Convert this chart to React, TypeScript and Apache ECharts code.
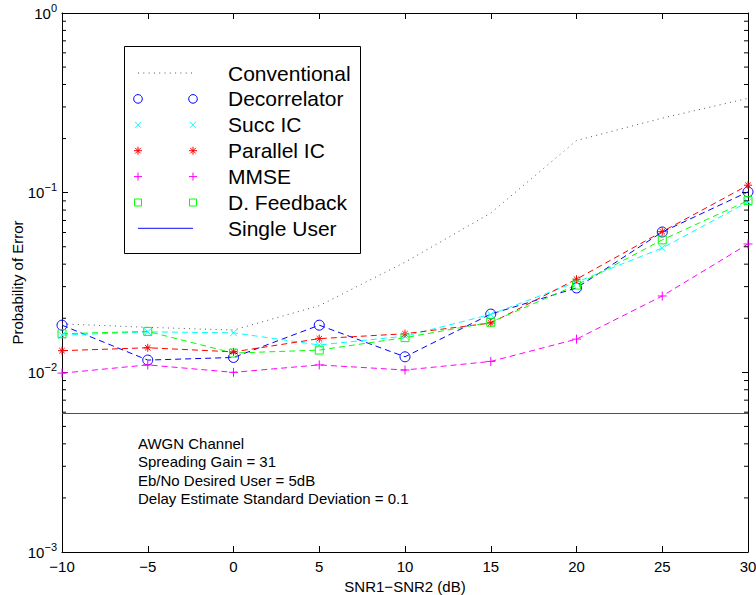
import React, { useEffect, useRef } from 'react';
import * as echarts from 'echarts';

// ---------- data ----------
const snrDiff = [-10, -5, 0, 5, 10, 15, 20, 25, 30];
const conventional = [0.0186, 0.0178, 0.0172, 0.0235, 0.041, 0.077, 0.195, 0.26, 0.335];
const decorrelator = [0.0183, 0.0117, 0.0121, 0.0183, 0.0122, 0.0211, 0.0295, 0.0604, 0.101];
const succIC = [0.0161, 0.0168, 0.0166, 0.0142, 0.0159, 0.021, 0.0318, 0.0492, 0.0888];
const parallelIC = [0.0132, 0.0137, 0.013, 0.0154, 0.0164, 0.0188, 0.033, 0.0607, 0.11];
const mmse = [0.0099, 0.011, 0.01, 0.011, 0.0103, 0.0115, 0.0153, 0.0266, 0.0518];
const dFeedback = [0.0164, 0.0169, 0.0128, 0.0133, 0.0156, 0.019, 0.0306, 0.0546, 0.0903];
const singleUser = [0.0059, 0.0059, 0.0059, 0.0059, 0.0059, 0.0059, 0.0059, 0.0059, 0.0059];

const minorTickValues = [
  0.002, 0.003, 0.004, 0.005, 0.006, 0.007, 0.008, 0.009,
  0.02, 0.03, 0.04, 0.05, 0.06, 0.07, 0.08, 0.09,
  0.2, 0.3, 0.4, 0.5, 0.6, 0.7, 0.8, 0.9,
];

const legendNames = ['Conventional', 'Decorrelator', 'Succ IC', 'Parallel IC', 'MMSE', 'D. Feedback', 'Single User'];
const noteLines = [
  'AWGN Channel',
  'Spreading Gain = 31',
  'Eb/No Desired User = 5dB',
  'Delay Estimate Standard Deviation = 0.1',
];
const yAxisTitle = 'Probability of Error';
const xAxisTitle = 'SNR1\u2212SNR2 (dB)';

const FONT = '"Liberation Sans", Arial, Helvetica, sans-serif';
const BLUE = '#0000ff';
const LINEBLUE = '#3a3aff';
const CYAN = '#00ffff';
const RED = '#ff0000';
const MAGENTA = '#ff00ff';
const GREEN = '#00ff00';
const DOT = '#555555';

const PLUS = 'path://M5,0L5,10M0,5L10,5';
const CROSS = 'path://M0,0L10,10M0,10L10,0';
const STAR = 'path://M5,0L5,10M0,5L10,5M1.6,1.6L8.4,8.4M1.6,8.4L8.4,1.6';

const pairs = (ys: number[]) => snrDiff.map((x, i) => [x, ys[i]]);

function markerSeries(name: string, ys: number[], color: string, symbol: string, size: number) {
  return {
    name,
    type: 'line',
    color,
    data: pairs(ys),
    symbol,
    symbolSize: size,
    showSymbol: true,
    lineStyle: { color, width: 1, type: [6, 4] },
    itemStyle: { color: 'rgba(0,0,0,0)', borderColor: color, borderWidth: 1 },
    emphasis: { disabled: true },
    z: 3,
  };
}

function legendMarker(kind: string, cx: number, cy: number, color: string): any[] {
  const st = { stroke: color, lineWidth: 1, fill: 'none' };
  const ln = (x1: number, y1: number, x2: number, y2: number) => ({
    type: 'line',
    shape: { x1, y1, x2, y2 },
    style: { stroke: color, lineWidth: 1 },
  });
  switch (kind) {
    case 'circle':
      return [{ type: 'circle', shape: { cx, cy, r: 4.3 }, style: st }];
    case 'cross':
      return [ln(cx - 3, cy - 3, cx + 3, cy + 3), ln(cx - 3, cy + 3, cx + 3, cy - 3)];
    case 'star':
      return [
        ln(cx, cy - 4, cx, cy + 4),
        ln(cx - 4, cy, cx + 4, cy),
        ln(cx - 2.8, cy - 2.8, cx + 2.8, cy + 2.8),
        ln(cx - 2.8, cy + 2.8, cx + 2.8, cy - 2.8),
      ];
    case 'plus':
      return [ln(cx, cy - 4, cx, cy + 4), ln(cx - 4, cy, cx + 4, cy)];
    case 'square':
      return [{ type: 'rect', shape: { x: cx - 3.5, y: cy - 3.5, width: 7, height: 7 }, style: st }];
    default:
      return [];
  }
}

export default function App() {
  const ref = useRef<HTMLDivElement>(null);

  useEffect(() => {
    document.body.style.margin = '0';
    if (!ref.current) return;
    const chart = echarts.init(ref.current, undefined, { renderer: 'svg' });

    // legend graphic
    const lx1 = 138;
    const lx2 = 193;
    const ltx = 228;
    const rowY = (i: number) => 73 + i * 25.9;
    const legendKinds = ['dots', 'circle', 'cross', 'star', 'plus', 'square', 'solid'];
    const legendColors = [DOT, BLUE, CYAN, RED, MAGENTA, GREEN, LINEBLUE];
    const legendChildren: any[] = [
      {
        type: 'rect',
        shape: { x: 124.5, y: 46.5, width: 236, height: 207 },
        style: { fill: '#ffffff', stroke: '#000000', lineWidth: 1 },
      },
    ];
    legendNames.forEach((name, i) => {
      const y = rowY(i);
      const kind = legendKinds[i];
      const c = legendColors[i];
      if (kind === 'dots') {
        legendChildren.push({
          type: 'line',
          shape: { x1: lx1, y1: y, x2: lx2, y2: y },
          style: { stroke: c, lineWidth: 1, lineDash: [1, 4.3] },
        });
      } else if (kind === 'solid') {
        legendChildren.push({
          type: 'line',
          shape: { x1: lx1, y1: y, x2: lx2, y2: y },
          style: { stroke: c, lineWidth: 1.2 },
        });
      } else {
        legendChildren.push(...legendMarker(kind, lx1, y, c));
        legendChildren.push(...legendMarker(kind, lx2, y, c));
      }
      legendChildren.push({
        type: 'text',
        x: ltx,
        y,
        style: {
          text: name,
          fill: '#000',
          font: `21px ${FONT}`,
          textVerticalAlign: 'middle',
          verticalAlign: 'middle',
          textAlign: 'left',
          align: 'left',
        },
      });
    });

    const noteChildren = noteLines.map((t, i) => ({
      type: 'text',
      x: 138,
      y: 443.5 + i * 18.3,
      style: {
        text: t,
        fill: '#000',
        font: `15px ${FONT}`,
        verticalAlign: 'middle',
        textVerticalAlign: 'middle',
        align: 'left',
      },
    }));

    const logLabel = (v: number) => {
      const e = Math.round(Math.log10(v));
      return `{b|10}{s|${String(e).replace('-', '\u2212')}}`;
    };

    const option: any = {
      animation: false,
      backgroundColor: '#ffffff',
      textStyle: { fontFamily: FONT },
      grid: { left: 62, right: 8, top: 13, bottom: 43, containLabel: false, outerBoundsMode: 'none' },
      xAxis: [
        {
          type: 'value',
          min: -10,
          max: 30,
          interval: 5,
          position: 'bottom',
          name: xAxisTitle,
          nameLocation: 'middle',
          nameGap: 26,
          nameTextStyle: { fontSize: 15, color: '#000', fontFamily: FONT },
          axisLine: { show: true, onZero: false, lineStyle: { color: '#000', width: 1 } },
          axisTick: { show: true, inside: true, length: 6, lineStyle: { color: '#000' } },
          axisLabel: {
            color: '#000',
            fontSize: 15,
            fontFamily: FONT,
            margin: 7,
            formatter: (v: number) => String(v).replace('-', '\u2212'),
          },
          splitLine: { show: false },
        },
        {
          type: 'value',
          min: -10,
          max: 30,
          interval: 5,
          position: 'top',
          axisLine: { show: true, onZero: false, lineStyle: { color: '#000', width: 1 } },
          axisTick: { show: true, inside: true, length: 6, lineStyle: { color: '#000' } },
          axisLabel: { show: false },
          splitLine: { show: false },
        },
      ],
      yAxis: [
        {
          type: 'log',
          logBase: 10,
          min: 0.001,
          max: 1,
          position: 'left',
          axisLine: { show: true, onZero: false, lineStyle: { color: '#000', width: 1 } },
          axisTick: { show: true, inside: true, length: 6, lineStyle: { color: '#000' } },
          axisLabel: {
            color: '#000',
            margin: 5,
            formatter: logLabel,
            rich: {
              b: { fontSize: 15, fontFamily: FONT, color: '#000' },
              s: { fontSize: 11, fontFamily: FONT, color: '#000', padding: [0, 0, 11, 0] },
            },
          },
          splitLine: { show: false },
        },
        {
          type: 'log',
          logBase: 10,
          min: 0.001,
          max: 1,
          position: 'right',
          axisLine: { show: true, onZero: false, lineStyle: { color: '#000', width: 1 } },
          axisTick: { show: true, inside: true, length: 6, lineStyle: { color: '#000' } },
          axisLabel: { show: false },
          splitLine: { show: false },
        },
      ],
      series: [
        {
          name: 'Conventional',
          type: 'line',
          color: DOT,
          data: pairs(conventional),
          showSymbol: false,
          symbol: 'none',
          lineStyle: { color: DOT, width: 1, type: [1, 4.3] },
          emphasis: { disabled: true },
          z: 2,
        },
        markerSeries('Decorrelator', decorrelator, BLUE, 'circle', 10),
        markerSeries('Succ IC', succIC, CYAN, CROSS, 7),
        markerSeries('Parallel IC', parallelIC, RED, STAR, 8),
        markerSeries('MMSE', mmse, MAGENTA, PLUS, 9),
        markerSeries('D. Feedback', dFeedback, GREEN, 'rect', 8),
        {
          name: 'Single User',
          type: 'line',
          color: LINEBLUE,
          data: pairs(singleUser),
          showSymbol: false,
          symbol: 'none',
          lineStyle: { color: LINEBLUE, width: 1.2 },
          emphasis: { disabled: true },
          z: 3,
        },
        {
          name: 'minorTicks',
          type: 'custom',
          silent: true,
          clip: false,
          z: 10,
          data: minorTickValues.map((v) => [-10, v]),
          renderItem: (params: any, api: any) => {
            const yv = api.value(1);
            const pl = api.coord([-10, yv]);
            const pr = api.coord([30, yv]);
            return {
              type: 'group',
              children: [
                {
                  type: 'line',
                  shape: { x1: pl[0], y1: pl[1], x2: pl[0] + 4, y2: pl[1] },
                  style: { stroke: '#000', lineWidth: 1 },
                },
                {
                  type: 'line',
                  shape: { x1: pr[0] - 4, y1: pr[1], x2: pr[0], y2: pr[1] },
                  style: { stroke: '#000', lineWidth: 1 },
                },
              ],
            };
          },
        },
      ],
      graphic: [
        { type: 'group', z: 100, children: legendChildren },
        { type: 'group', z: 100, children: noteChildren },
        {
          type: 'text',
          z: 100,
          x: 17,
          y: 282.5,
          rotation: Math.PI / 2,
          style: {
            text: yAxisTitle,
            fill: '#000',
            font: `15px ${FONT}`,
            align: 'center',
            textAlign: 'center',
            verticalAlign: 'middle',
            textVerticalAlign: 'middle',
          },
        },
      ],
    };

    chart.setOption(option);
    return () => chart.dispose();
  }, []);

  return <div ref={ref} style={{ width: 756, height: 595 }} />;
}
